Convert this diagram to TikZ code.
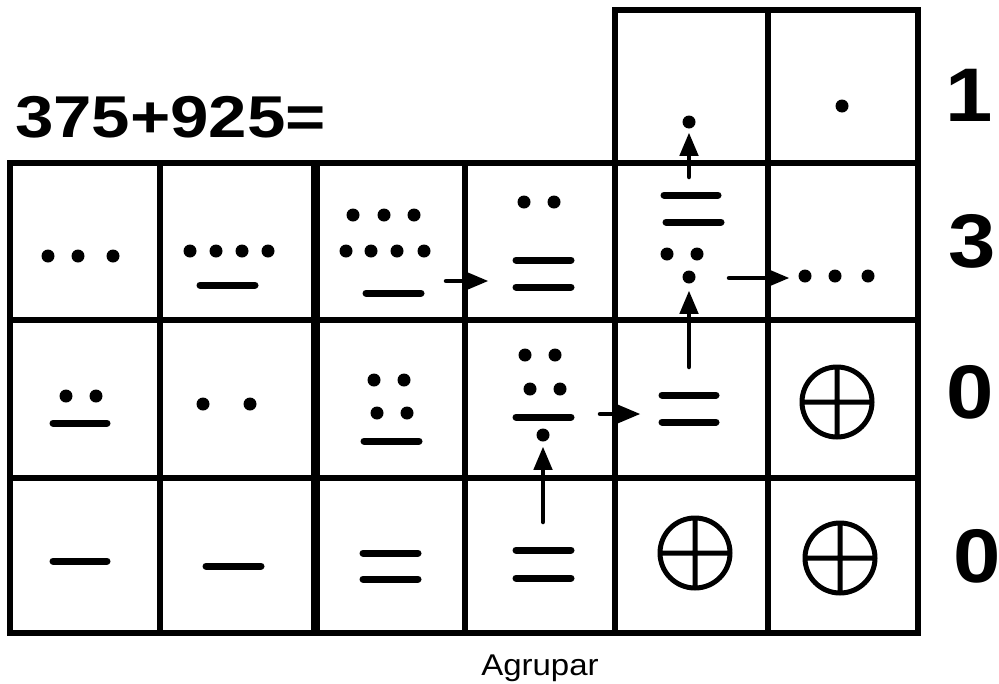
\documentclass[tikz,border=0pt]{standalone}
\usepackage{fontspec}
\setmainfont{Liberation Sans}
\usetikzlibrary{arrows}

\begin{document}
\begin{tikzpicture}[line cap=round,line join=round,>=triangle 45,x=1pt,y=-1pt,
    grid/.style={line width=5.5pt,line join=miter,line cap=rect},
    thickgrid/.style={line width=9pt,line cap=butt},
    bar/.style={line width=7pt},
    zero/.style={line width=5pt},
    arr/.style={->,line width=4.5pt},
    digit/.style={font=\bfseries\fontsize{76}{80}\selectfont,xscale=1.12}]
        \useasboundingbox (0,0) rectangle (999,683);
        % sum and result
        \node[anchor=base west,xscale=1.17,font=\bfseries\fontsize{59}{62}\selectfont] (sum) at (11,137) {375+925=};
        \node[digit] (d1) at (969,95) {1};
        \node[digit] (d2) at (972,241) {3};
        \node[digit] (d3) at (970,392) {0};
        \node[digit] (d4) at (977,556) {0};
        \node[anchor=base,xscale=1.1,font=\fontsize{30}{32}\selectfont] (agrupar) at (540,675) {Agrupar};
        % table
        \draw[grid] (10,163) rectangle (918,633);
        \draw[grid] (615,10) rectangle (918,163);
        \draw[grid] (160,163) -- (160,633);
        \draw[grid] (465,163) -- (465,633);
        \draw[grid] (615,163) -- (615,633);
        \draw[grid] (768,10) -- (768,633);
        \draw[grid] (10,320) -- (918,320);
        \draw[grid] (10,478) -- (918,478);
        \draw[thickgrid] (315,163) -- (315,633);
        % 375
        \foreach \x in {48,78,113} \fill (\x,256) circle (6.5pt);
        \fill (66,396) circle (6.5pt) (96,396) circle (6.5pt);
        \draw[bar] (53,423) -- (107,423);
        \draw[bar] (53,561) -- (107,561);
        % 925
        \foreach \x in {190,216,242,268} \fill (\x,251) circle (6.5pt);
        \draw[bar] (200,285) -- (255,285);
        \fill (203,404) circle (6.5pt) (250,404) circle (6.5pt);
        \draw[bar] (206,566) -- (261,566);
        % sum of both
        \foreach \x in {353,384,414} \fill (\x,215) circle (6.5pt);
        \foreach \x in {346,371,397,424} \fill (\x,251) circle (6.5pt);
        \draw[bar] (366,293) -- (421,293);
        \fill (374,380) circle (6.5pt) (404,380) circle (6.5pt);
        \fill (377,413) circle (6.5pt) (407,413) circle (6.5pt);
        \draw[bar] (364,441) -- (419,441);
        \draw[bar] (363,553) -- (418,553);
        \draw[bar] (363,579) -- (418,579);
        % grouping
        \fill (524,202) circle (6.5pt) (554,202) circle (6.5pt);
        \draw[bar] (516,260) -- (571,260);
        \draw[bar] (516,287) -- (571,287);
        \fill (525,355) circle (6.5pt) (555,355) circle (6.5pt);
        \fill (530,389) circle (6.5pt) (560,389) circle (6.5pt);
        \draw[bar] (516,417) -- (571,417);
        \fill (543,435) circle (6.5pt);
        \draw[bar] (516,550) -- (571,550);
        \draw[bar] (516,578) -- (571,578);
        \fill (689,122) circle (6.5pt);
        \draw[bar] (664,195) -- (718,195);
        \draw[bar] (666,222) -- (721,222);
        \fill (667,254) circle (6.5pt) (697,254) circle (6.5pt);
        \fill (689,277) circle (6.5pt);
        \draw[bar] (662,395) -- (716,395);
        \draw[bar] (662,422) -- (716,422);
        \draw[zero] (695,553) circle (35pt) (660,553) -- (730,553) (695,518) -- (695,588);
        % result
        \fill (842,106) circle (6.5pt);
        \foreach \x in {805,835,868} \fill (\x,276) circle (6.5pt);
        \draw[zero] (837,402) circle (35pt) (802,402) -- (872,402) (837,367) -- (837,437);
        \draw[zero] (840,558) circle (35pt) (805,558) -- (875,558) (840,523) -- (840,593);
        % carries
        \coordinate (a1) at (446,281);
        \coordinate (b1) at (488,281);
        \coordinate (a2) at (689,177);
        \coordinate (b2) at (689,133);
        \coordinate (a3) at (729,278);
        \coordinate (b3) at (789,278);
        \coordinate (a4) at (689,367);
        \coordinate (b4) at (689,291);
        \coordinate (a5) at (543,522);
        \coordinate (b5) at (543,447);
        \coordinate (a6) at (600,414);
        \coordinate (b6) at (640,414);
        \draw[arr] (a1) -- (b1);
        \draw[arr] (a2) -- (b2);
        \draw[arr] (a3) -- (b3);
        \draw[arr] (a4) -- (b4);
        \draw[arr] (a5) -- (b5);
        \draw[arr] (a6) -- (b6);
\end{tikzpicture}
\end{document}
